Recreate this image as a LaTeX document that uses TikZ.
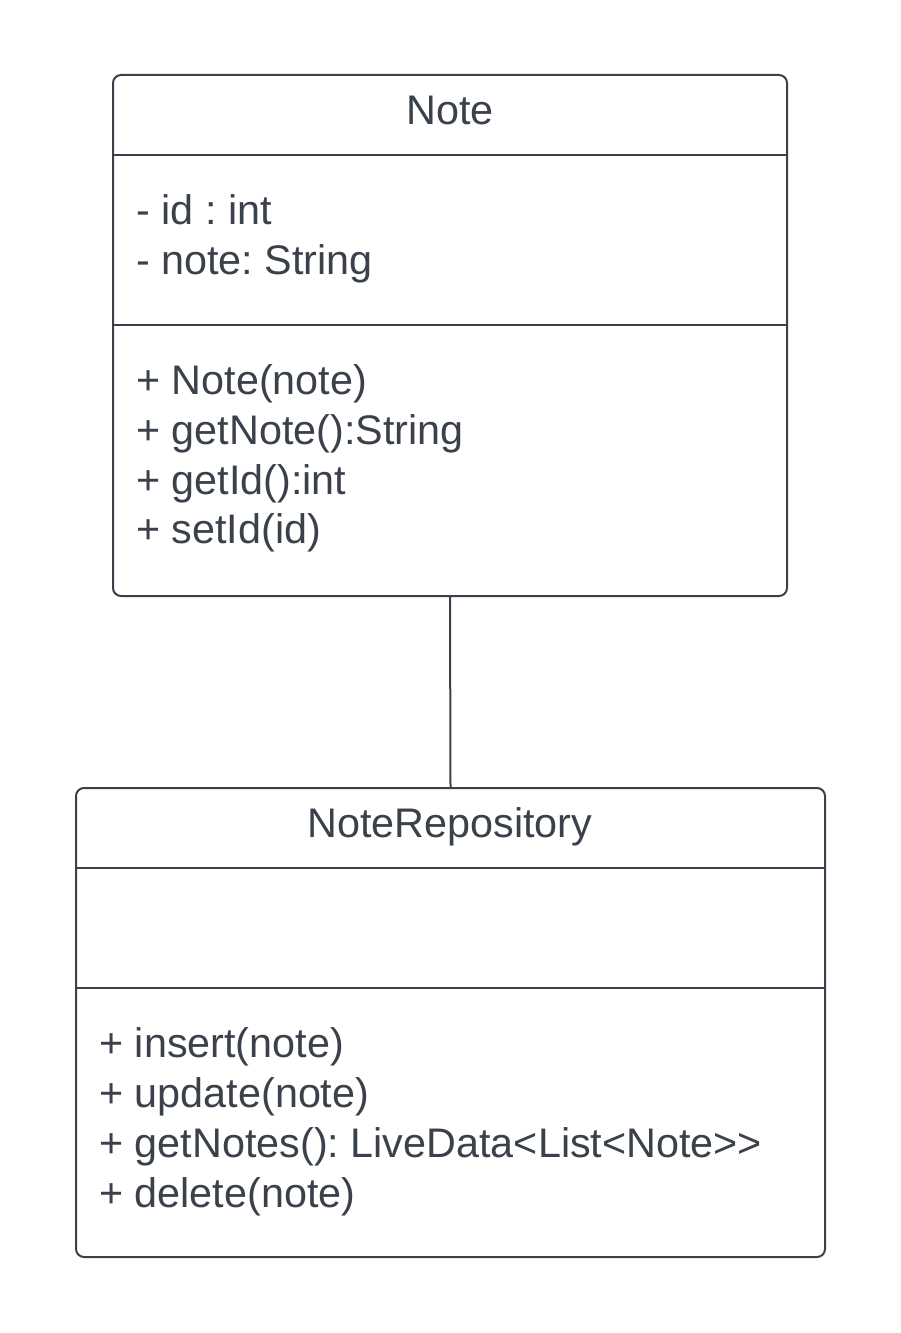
\documentclass[tikz,border=0pt]{standalone}
\usepackage{fontspec}
\setmainfont{Liberation Sans}
\usetikzlibrary{positioning}
\definecolor{umlgray}{HTML}{3A414A}
\frenchspacing

\begin{document}
\begin{tikzpicture}[x=0.75pt, y=-0.75pt,
    classbox/.style={draw=umlgray, line width=1.5pt, rounded corners=6pt, inner sep=0pt},
    member/.style={anchor=base west, inner sep=0pt, text=umlgray, font=\fontsize{31}{37}\selectfont},
    classname/.style={anchor=base, inner sep=0pt, text=umlgray, font=\fontsize{31}{37}\selectfont},
    divider/.style={draw=umlgray, line width=1.5pt}]
    \useasboundingbox (0, 0) rectangle (900, 1333);

    % class Note
    \node[classbox, minimum width=505.5pt, minimum height=390.75pt] (note) at (450, 335.5) {};
    \node[classname] (notetitle) at (450, 125) {Note};
    \draw[divider] (113, 155) -- (787, 155);
    \draw[divider] (113, 325) -- (787, 325);
    \node[member] (noteid) at (136, 225) {- id : int};
    \node[member] (notetext) at (136, 275) {- note: String};
    \node[member] (notector) at (136, 394) {+ Note(note)};
    \node[member] (notegetnote) at (136, 444) {+ getNote():String};
    \node[member] (notegetid) at (136, 494) {+ getId():int};
    \node[member] (notesetid) at (136, 543) {+ setId(id)};

    % class NoteRepository
    \node[classbox, minimum width=561.75pt, minimum height=351.75pt] (repo) at (450.5, 1022.5) {};
    \node[classname] (repotitle) at (450, 837) {NoteRepository};
    \draw[divider] (76, 868) -- (825, 868);
    \draw[divider] (76, 988) -- (825, 988);
    \node[member] (repoinsert) at (99, 1057) {+ insert(note)};
    \node[member] (repoupdate) at (99, 1107) {+ update(note)};
    \node[member] (repogetnotes) at (99, 1157) {+ getNotes(): LiveData<List<Note>\kern0pt>};
    \node[member] (repodelete) at (99, 1207) {+ delete(note)};

    \draw[umlgray, line width=1.5pt] (note.south) -- (repo.north);
  \end{tikzpicture}
\end{document}
